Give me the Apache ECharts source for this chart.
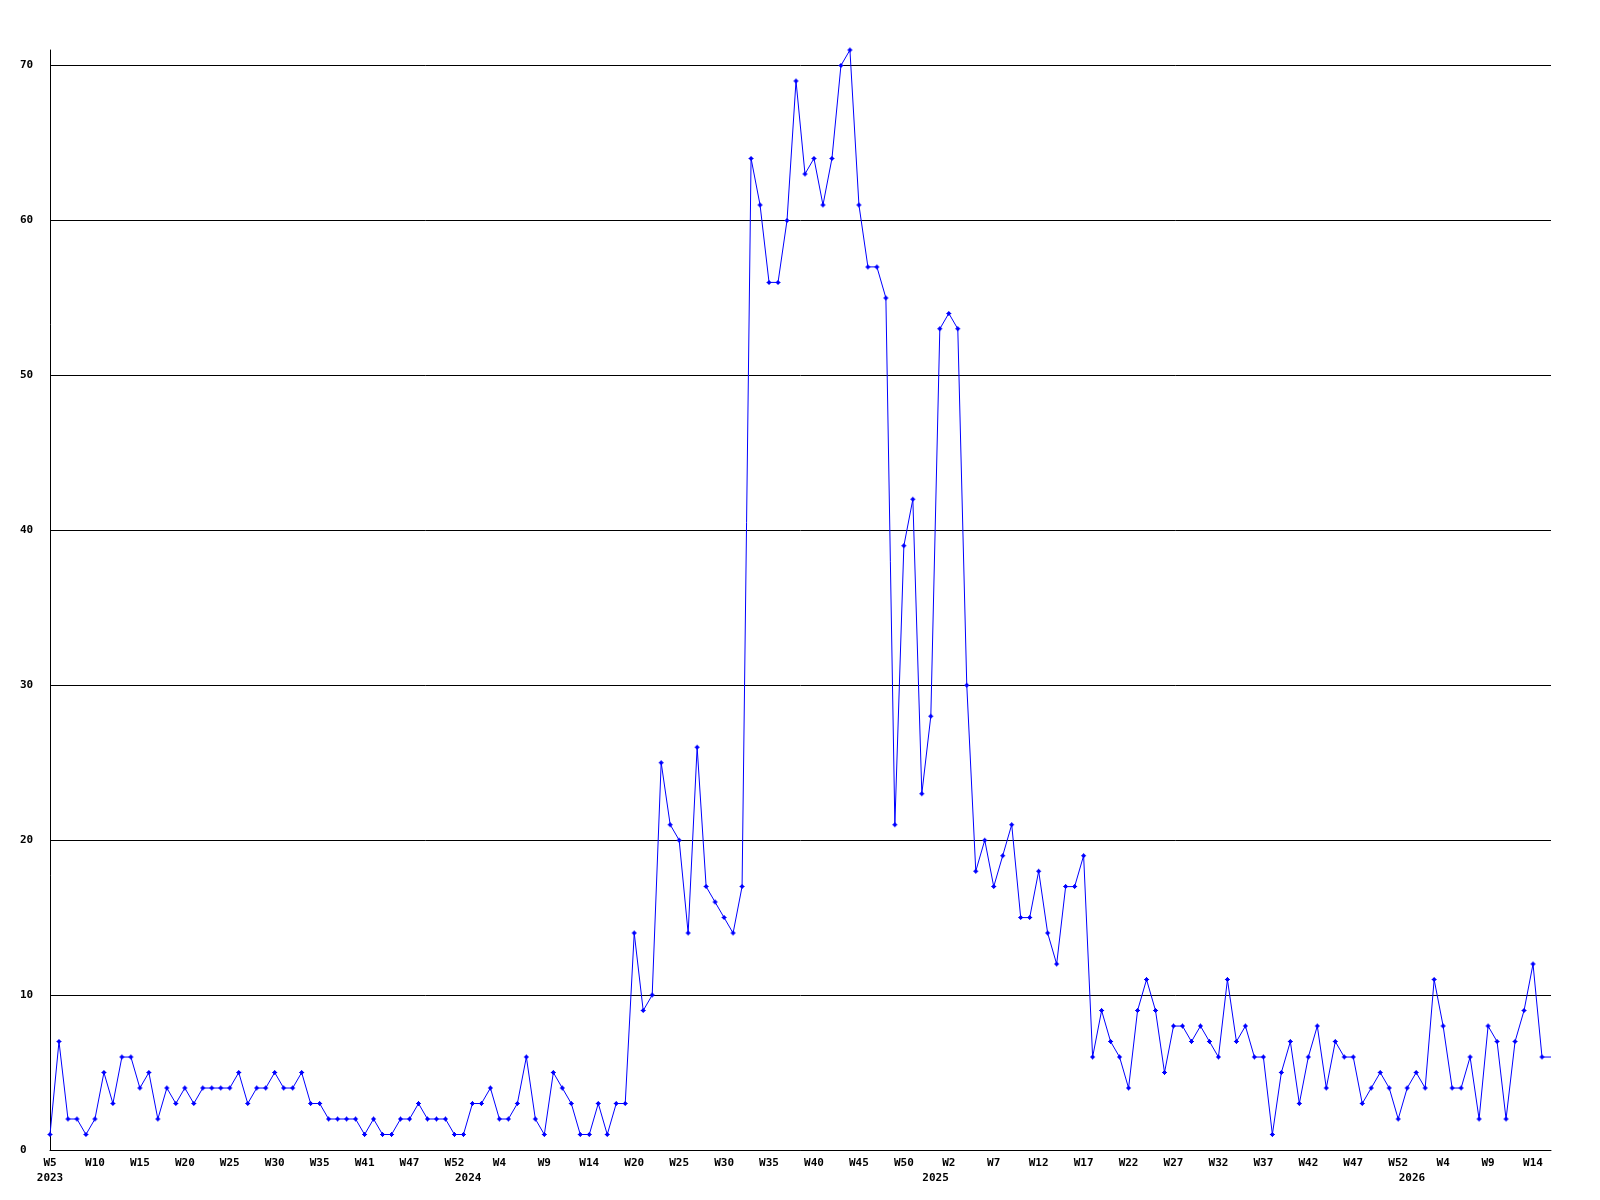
<!DOCTYPE html>
<html>
<head>
<meta charset="utf-8">
<script src="https://cdn.jsdelivr.net/npm/echarts@6.0.0/dist/echarts.min.js"></script>
<style>
html,body{margin:0;padding:0;background:#fff;}
#chart{width:1600px;height:1200px;}
</style>
</head>
<body>
<div id="chart"></div>
<script>
// Weekly values, 2023-W05 .. 2026-W16
const values = [
  1,7,2,2,1,2,5,3,6,6,
  4,5,2,4,3,4,3,4,4,4,
  4,5,3,4,4,5,4,4,5,3,
  3,2,2,2,2,1,2,1,1,2,
  2,3,2,2,2,1,1,3,3,4,
  2,2,3,6,2,1,5,4,3,1,
  1,3,1,3,3,14,9,10,25,21,
  20,14,26,17,16,15,14,17,64,61,
  56,56,60,69,63,64,61,64,70,71,
  61,57,57,55,21,39,42,23,28,53,
  54,53,30,18,20,17,19,21,15,15,
  18,14,12,17,17,19,6,9,7,6,
  4,9,11,9,5,8,8,7,8,7,
  6,11,7,8,6,6,1,5,7,3,
  6,8,4,7,6,6,3,4,5,4,
  2,4,5,4,11,8,4,4,6,2,
  8,7,2,7,9,12,6,6
];

// Category names (year-week)
const yearSpans = [[2023, 5, 52], [2024, 1, 52], [2025, 1, 52], [2026, 1, 16]];
const categories = [];
yearSpans.forEach(([y, a, b]) => { for (let w = a; w <= b; w++) categories.push(y + '-W' + w); });

// Tick labels shown on the x axis: [category index, text]
const weekTickLabels = [
  [0,'W5'],[5,'W10'],[10,'W15'],[15,'W20'],[20,'W25'],[25,'W30'],[30,'W35'],[35,'W41'],[40,'W47'],[45,'W52'],
  [50,'W4'],[55,'W9'],[60,'W14'],[65,'W20'],[70,'W25'],[75,'W30'],[80,'W35'],[85,'W40'],[90,'W45'],[95,'W50'],
  [100,'W2'],[105,'W7'],[110,'W12'],[115,'W17'],[120,'W22'],[125,'W27'],[130,'W32'],[135,'W37'],[140,'W42'],[145,'W47'],
  [150,'W52'],[155,'W4'],[160,'W9'],[165,'W14']
];
const yearTickLabels = [[0,'2023'],[48,'2024'],[100,'2025'],[153,'2026']];

const yMin = 0, yMax = 71, yInterval = 10;

const weekMap = new Map(weekTickLabels);
const yearMap = new Map(yearTickLabels);

const font = {fontFamily: '"DejaVu Sans Mono", monospace', fontWeight: 'bold', fontSize: 11, color: '#000'};

const seriesData = values.map((v, i) => i === values.length - 1 ? {value: v, symbol: 'none'} : v);

const chart = echarts.init(document.getElementById('chart'), null, {renderer: 'canvas'});
chart.setOption({
  animation: false,
  backgroundColor: '#fff',
  grid: {left: 50, right: 49, top: 50, bottom: 50, containLabel: false},
  xAxis: [
    {
      type: 'category', data: categories, boundaryGap: false, position: 'bottom',
      axisLine: {show: true, onZero: false, lineStyle: {color: '#000', width: 1}},
      axisTick: {show: false},
      splitLine: {show: false},
      axisLabel: Object.assign({
        margin: 8,
        interval: (i) => weekMap.has(i),
        formatter: (v, i) => weekMap.get(i) || ''
      }, font)
    },
    {
      type: 'category', data: categories, boundaryGap: false, position: 'bottom',
      axisLine: {show: false}, axisTick: {show: false}, splitLine: {show: false},
      axisLabel: Object.assign({
        margin: 23,
        align: 'right',
        alignMinLabel: 'center',
        interval: (i) => yearMap.has(i),
        formatter: (v, i) => yearMap.get(i) || ''
      }, font)
    }
  ],
  yAxis: {
    type: 'value', min: yMin, max: yMax, interval: yInterval,
    axisLine: {show: true, lineStyle: {color: '#000', width: 1}},
    axisTick: {show: false},
    splitLine: {show: true, showMaxLine: false, lineStyle: {color: '#000', width: 1}},
    axisLabel: Object.assign({margin: 30, align: 'left', showMaxLabel: false}, font)
  },
  series: [{
    type: 'line',
    data: seriesData,
    xAxisIndex: 0,
    color: '#0000ff',
    lineStyle: {color: '#0000ff', width: 1},
    itemStyle: {color: '#0000ff'},
    symbol: 'path://M2,0H3V1H4V2H5V3H4V4H3V5H2V4H1V3H0V2H1V1H2Z',
    symbolSize: 5,
    showSymbol: true,
    showAllSymbol: true,
    clip: false
  }]
});
</script>
</body>
</html>
